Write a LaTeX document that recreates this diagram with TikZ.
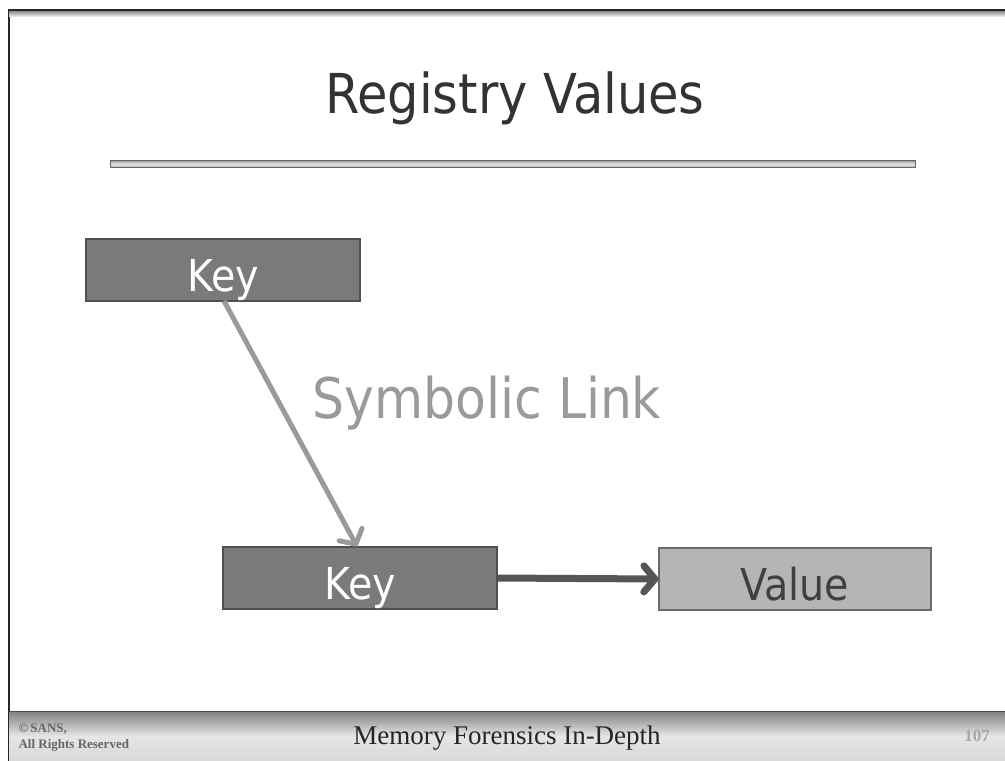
\documentclass[tikz,border=0pt]{standalone}
\usepackage{fontspec}
\setmainfont{DejaVu Sans Condensed}
\newfontfamily\footfont{Liberation Serif}
\usetikzlibrary{arrows.meta,shadings}
\definecolor{keyfill}{HTML}{7A7A7A}
\definecolor{keyedge}{HTML}{505050}
\definecolor{valfill}{HTML}{B5B5B5}
\definecolor{valedge}{HTML}{6A6A6A}
\definecolor{linkgray}{HTML}{9A9A9A}
\definecolor{darkarrow}{HTML}{555555}
\newcommand{\lowtext}[1]{\raisebox{-21pt}[0pt][0pt]{#1}}
\tikzset{
  box/.style={draw=keyedge, line width=1.2pt, fill=keyfill, minimum width=274pt, minimum height=62pt, inner sep=0pt, text=white, font=\fontsize{44}{48}\selectfont},
  valbox/.style={box, draw=valedge, fill=valfill, text=black!75, minimum width=272pt},
  chev/.style={-{Straight Barb[length=11pt,width=26pt,round]}}
}
\begin{document}
\begin{tikzpicture}[x=1pt,y=-1pt]
\useasboundingbox (0,0) rectangle (1005,761);
\fill[white] (0,0) rectangle (1005,761);
% slide frame
\draw[black!85, line width=2pt] (9,762) -- (9,10) -- (1006,10);
\shade[top color=black!45, bottom color=black!10] (9,11) rectangle (1005,16);
% footer band
\shade[top color=black!50, bottom color=black!15, middle color=black!10] (9,711) rectangle (1005,761);
\draw[black!70, line width=1pt] (9,711) -- (1005,711);
\node[anchor=west, align=left, font=\footfont\fontsize{13}{16}\selectfont\bfseries, text=black!60] (copy) at (15,738) {\textcopyright\,SANS,\\All Rights Reserved};
\node[font=\footfont\fontsize{27}{30}\selectfont, text=black!85] (foot) at (507,738) {Memory Forensics In-Depth};
\node[font=\footfont\fontsize{17}{18}\selectfont\bfseries, text=black!35] (page) at (977,736) {107};
% title
\node[font=\fontsize{55}{60}\selectfont, text=black!80] (title) at (515,98) {Registry Values};
\shade[top color=black!45, bottom color=black!25, middle color=black!12, draw=black!60] (110,160) rectangle (915,167);
% boxes
\node[box] (key1) at (223,270) {\lowtext{Key}};
\node[box] (key2) at (360,578) {\lowtext{Key}};
\node[valbox] (val) at (795,579) {\lowtext{Value}};
\node[font=\fontsize{56}{60}\selectfont, text=linkgray] (sym) at (487,403) {Symbolic Link};
% connectors
\draw[linkgray, line width=5pt, chev] (224,301) -- (key2.north -| 357,0);
\draw[darkarrow, line width=7pt, chev] (key2.east) -- (val.west);
\end{tikzpicture}
\end{document}
